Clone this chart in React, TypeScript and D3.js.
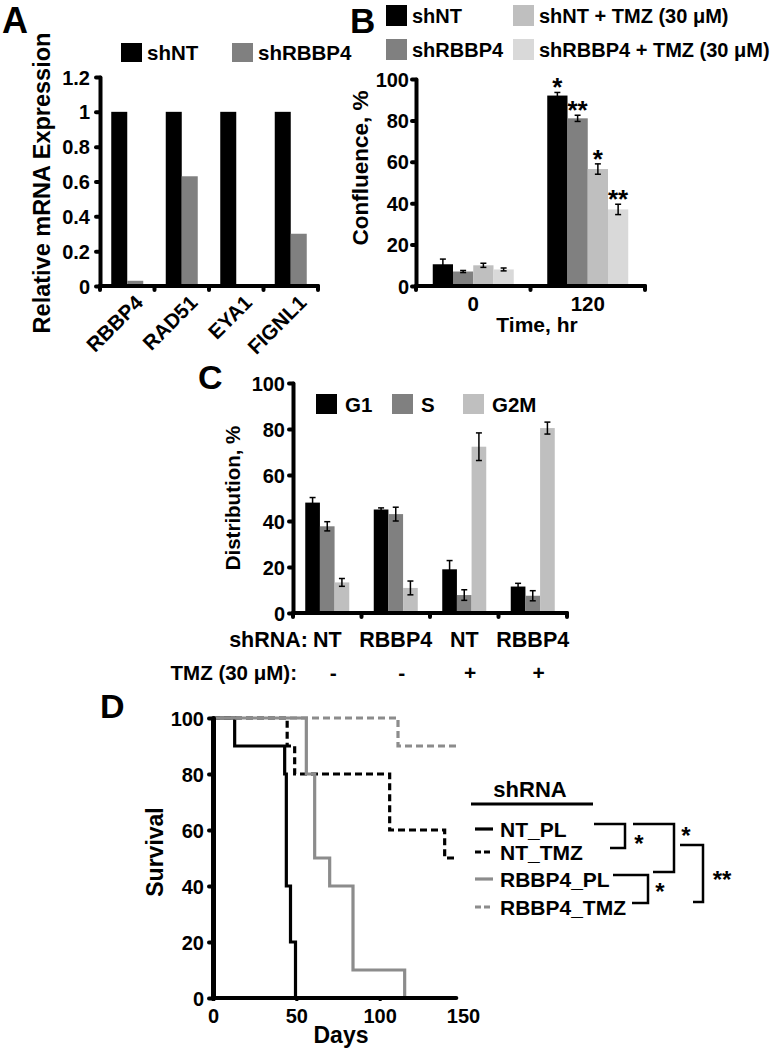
import React, { useEffect, useRef } from 'react';
import * as d3 from 'd3';

const FONT = '"Liberation Sans", Arial, Helvetica, sans-serif';

// Panel A
const genesA = ['RBBP4', 'RAD51', 'EYA1', 'FIGNL1'];
const seriesA = ['shNT', 'shRBBP4'];
const shNTA = [1, 1, 1, 1];
const shRBBP4A = [0.03, 0.63, 0, 0.3];
const colorsA = ['#000000', '#808080'];

// Panel B
const timesB = ['0', '120'];
const seriesB = ['shNT', 'shRBBP4', 'shNT + TMZ (30 μM)', 'shRBBP4 + TMZ (30 μM)'];
const colorsB = ['#000000', '#808080', '#bfbfbf', '#d9d9d9'];
const confMean = [[10.5, 92], [7, 81], [10, 56.5], [8, 37]];
const confErr = [[2.5, 1.5], [0.5, 1.5], [1, 2.5], [0.7, 2.5]];
const confStars = [['', '*'], ['', '**'], ['', '*'], ['', '**']];

// Panel C
const groupsC = ['NT-', 'RBBP4-', 'NT+', 'RBBP4+'];
const shrnaC = ['NT', 'RBBP4', 'NT', 'RBBP4'];
const tmzC = ['-', '-', '+', '+'];
const phasesC = ['G1', 'S', 'G2M'];
const colorsC = ['#000000', '#808080', '#bfbfbf'];
const distMean = [[48, 45, 19, 11.5], [37.7, 43, 7.8, 7.5], [13.3, 10.9, 72.3, 80.4]];
const distErr = [[2.2, 0.7, 3.8, 1.4], [2, 3, 2.3, 2.2], [1.7, 3, 6, 2.6]];

// Panel D
const survNames = ['NT_PL', 'NT_TMZ', 'RBBP4_PL', 'RBBP4_TMZ'];
const survColors = ['#000000', '#000000', '#8c8c8c', '#8c8c8c'];
const survDashed = [false, true, false, true];
const survNTPL = [[0, 100], [13, 90], [43, 80], [44, 40], [46.5, 20], [49.5, 0], [145, 0]];
const survNTTMZ = [[0, 100], [44.5, 90], [49, 80], [106, 60], [139, 50], [145, 50]];
const survRBPL = [[0, 100], [56, 80], [61, 50], [70, 40], [84, 10], [115, 0]];
const survRBTMZ = [[0, 100], [111, 90], [146, 90]];
const survData = [survNTPL, survNTTMZ, survRBPL, survRBTMZ];

function boldText(sel, x, y, txt, size, anchor = 'start') {
  return sel.append('text')
    .attr('x', x).attr('y', y)
    .attr('font-family', FONT).attr('font-weight', 'bold')
    .attr('font-size', size).attr('text-anchor', anchor)
    .attr('fill', '#000')
    .text(txt);
}

function leftAxis(svg, y, x, ticks, fmt, size = 20, pad = 6) {
  const ax = svg.append('g')
    .attr('transform', `translate(${x},0)`)
    .call(d3.axisLeft(y).tickValues(ticks).tickSize(4).tickSizeOuter(0).tickPadding(pad).tickFormat(fmt));
  ax.select('.domain').attr('stroke', '#000').attr('stroke-width', 4).attr('stroke-linecap', 'round');
  ax.selectAll('.tick line').attr('stroke', '#000').attr('stroke-width', 4).attr('stroke-linecap', 'round');
  ax.selectAll('.tick text')
    .attr('font-family', FONT).attr('font-weight', 'bold').attr('font-size', size).attr('fill', '#000')
    .attr('dy', '0.35em');
  return ax;
}

// x baseline with ticks at category boundaries (Excel style)
function bandBaseline(svg, x, y0) {
  const [r0, r1] = x.range();
  svg.append('line').attr('x1', r0).attr('x2', r1).attr('y1', y0).attr('y2', y0)
    .attr('stroke', '#000').attr('stroke-width', 4).attr('stroke-linecap', 'round');
  const edges = x.domain().map(d => x(d)).concat([r1]);
  svg.selectAll(null).data(edges).enter().append('line')
    .attr('x1', d => d).attr('x2', d => d).attr('y1', y0).attr('y2', y0 + 4)
    .attr('stroke', '#000').attr('stroke-width', 4).attr('stroke-linecap', 'round');
}

function errBar(svg, cx, yTop, yBot, cap = 3) {
  svg.append('line').attr('x1', cx).attr('x2', cx).attr('y1', yTop).attr('y2', yBot).attr('stroke', '#000').attr('stroke-width', 1.5);
  svg.append('line').attr('x1', cx - cap).attr('x2', cx + cap).attr('y1', yTop).attr('y2', yTop).attr('stroke', '#000').attr('stroke-width', 1.5);
  svg.append('line').attr('x1', cx - cap).attr('x2', cx + cap).attr('y1', yBot).attr('y2', yBot).attr('stroke', '#000').attr('stroke-width', 1.5);
}

export default function App() {
  const ref = useRef<SVGSVGElement>(null);

  useEffect(() => {
    const svg = d3.select(ref.current);
    svg.selectAll('*').remove();

    // ---------- Panel A ----------
    boldText(svg, 2, 33, 'A', 36);
    const xA = d3.scaleBand().domain(genesA).range([100, 318]);
    const yA = d3.scaleLinear().domain([0, 1.2]).range([286, 77]);
    const subA = d3.scaleBand().domain(seriesA).range([0, 32]);
    [shNTA, shRBBP4A].forEach((vals, si) => {
      svg.selectAll(null).data(vals).enter().append('rect')
        .attr('x', (d, i) => xA(genesA[i]) + xA.bandwidth() / 2 - 16 + subA(seriesA[si]))
        .attr('y', d => yA(d))
        .attr('width', subA.bandwidth())
        .attr('height', d => yA(0) - yA(d))
        .attr('fill', colorsA[si]);
    });
    leftAxis(svg, yA, 100, [0, 0.2, 0.4, 0.6, 0.8, 1, 1.2], d3.format('~g'), 20, 6);
    bandBaseline(svg, xA, 286);
    genesA.forEach(g => {
      boldText(svg, 0, 0, g, 20.5, 'end')
        .attr('transform', `translate(${xA(g) + xA.bandwidth() / 2 + 17},${304}) rotate(-45)`);
    });
    boldText(svg, 0, 0, 'Relative mRNA Expression', 23.5, 'middle')
      .attr('transform', 'translate(50,183) rotate(-90)');
    // legend A
    seriesA.forEach((s, i) => {
      const lx = [121, 232][i];
      svg.append('rect').attr('x', lx).attr('y', 43).attr('width', 21).attr('height', 19).attr('fill', colorsA[i]);
      boldText(svg, lx + 26, 60, s, 20.5);
    });

    // ---------- Panel B ----------
    boldText(svg, 350, 33, 'B', 35);
    const xB = d3.scaleBand().domain(timesB).range([416, 645]);
    const yB = d3.scaleLinear().domain([0, 100]).range([286, 79]);
    const subB = d3.scaleBand().domain(seriesB).range([0, 81]);
    seriesB.forEach((s, si) => {
      timesB.forEach((t, ti) => {
        const v = confMean[si][ti];
        const e = confErr[si][ti];
        const bx = xB(t) + xB.bandwidth() / 2 - 40.5 + subB(s);
        svg.append('rect').attr('x', bx).attr('y', yB(v)).attr('width', subB.bandwidth())
          .attr('height', yB(0) - yB(v)).attr('fill', colorsB[si]);
        errBar(svg, bx + subB.bandwidth() / 2, yB(v + e), yB(v - e), 3);
        if (confStars[si][ti]) {
          boldText(svg, bx + subB.bandwidth() / 2, yB(v + e) + 4, confStars[si][ti], 26, 'middle');
        }
      });
    });
    leftAxis(svg, yB, 416, [0, 20, 40, 60, 80, 100], d3.format('d'), 20, 3);
    bandBaseline(svg, xB, 286);
    timesB.forEach(t => boldText(svg, xB(t) + xB.bandwidth() / 2, 311, t, 20.5, 'middle'));
    boldText(svg, 537, 332, 'Time, hr', 21, 'middle');
    boldText(svg, 0, 0, 'Confluence, %', 22.5, 'middle')
      .attr('transform', 'translate(368,168) rotate(-90)');
    seriesB.forEach((s, i) => {
      const lx = [386, 386, 513, 513][i];
      const ly = [5, 39, 5, 39][i];
      svg.append('rect').attr('x', lx).attr('y', ly).attr('width', 21).attr('height', 21).attr('fill', colorsB[i]);
      boldText(svg, lx + 26, ly + 18, s, 20);
    });

    // ---------- Panel C ----------
    boldText(svg, 198, 389, 'C', 34);
    const xC = d3.scaleBand().domain(groupsC).range([293, 567]);
    const yC = d3.scaleLinear().domain([0, 100]).range([613, 383]);
    const subC = d3.scaleBand().domain(phasesC).range([0, 44]);
    phasesC.forEach((p, pi) => {
      groupsC.forEach((g, gi) => {
        const v = distMean[pi][gi];
        const e = distErr[pi][gi];
        const bx = xC(g) + xC.bandwidth() / 2 - 22 + subC(p);
        svg.append('rect').attr('x', bx).attr('y', yC(v)).attr('width', subC.bandwidth())
          .attr('height', yC(0) - yC(v)).attr('fill', colorsC[pi]);
        errBar(svg, bx + subC.bandwidth() / 2, yC(v + e), yC(v - e), 3);
      });
    });
    leftAxis(svg, yC, 293, [0, 20, 40, 60, 80, 100], d3.format('d'), 20, 4);
    bandBaseline(svg, xC, 613);
    boldText(svg, 0, 0, 'Distribution, %', 20.5, 'middle')
      .attr('transform', 'translate(240,498) rotate(-90)');
    phasesC.forEach((p, i) => {
      const lx = [316, 392, 463][i];
      svg.append('rect').attr('x', lx).attr('y', 394).attr('width', 21).attr('height', 20).attr('fill', colorsC[i]);
      boldText(svg, lx + 29, 412, p, 20.5);
    });
    boldText(svg, 308, 647, 'shRNA:', 21.5, 'end');
    groupsC.forEach((g, i) => {
      boldText(svg, xC(g) + xC.bandwidth() / 2, 647, shrnaC[i], 21.5, 'middle');
      boldText(svg, xC(g) + xC.bandwidth() / 2 + 6, 680, tmzC[i], 21, 'middle');
    });
    boldText(svg, 297, 680, 'TMZ (30 μM):', 20.5, 'end');

    // ---------- Panel D ----------
    boldText(svg, 100, 718, 'D', 34);
    const xD = d3.scaleLinear().domain([0, 150]).range([213, 463]);
    const yD = d3.scaleLinear().domain([0, 100]).range([998, 718]);
    const line = d3.line().x(d => xD(d[0])).y(d => yD(d[1])).curve(d3.curveStepAfter);
    survData.forEach((pts, i) => {
      svg.append('path').attr('d', line(pts)).attr('fill', 'none')
        .attr('stroke', survColors[i]).attr('stroke-width', 3.2)
        .attr('stroke-dasharray', survDashed[i] ? '7,4' : null);
    });
    const axY = leftAxis(svg, yD, 213, [0, 20, 40, 60, 80, 100], d3.format('d'), 20, 5);
    axY.select('.domain').attr('stroke-width', 5);
    const axX = svg.append('g').attr('transform', 'translate(0,998)')
      .call(d3.axisBottom(xD).tickValues([0, 50, 100, 150]).tickSize(3).tickSizeOuter(0).tickPadding(8));
    axX.select('.domain').attr('stroke', '#000').attr('stroke-width', 4).attr('stroke-linecap', 'round')
      .attr('d', `M${xD(0)},0H${xD(146)}`);
    axX.selectAll('.tick line').attr('stroke', '#000').attr('stroke-width', 3)
      .attr('opacity', d => (d > 146 ? 0 : 1));
    axX.selectAll('.tick text').attr('font-family', FONT).attr('font-weight', 'bold').attr('font-size', 20).attr('fill', '#000');
    boldText(svg, 341, 1043, 'Days', 23, 'middle');
    boldText(svg, 0, 0, 'Survival', 23, 'middle')
      .attr('transform', 'translate(163,852) rotate(-90)');

    // legend D
    boldText(svg, 530, 797, 'shRNA', 22, 'middle');
    svg.append('line').attr('x1', 471).attr('x2', 593).attr('y1', 804).attr('y2', 804).attr('stroke', '#000').attr('stroke-width', 3);
    const rowY = [829, 852, 879, 907];
    survNames.forEach((n, i) => {
      svg.append('line').attr('x1', 475).attr('x2', 493).attr('y1', rowY[i]).attr('y2', rowY[i])
        .attr('stroke', survColors[i]).attr('stroke-width', 3.2)
        .attr('stroke-dasharray', survDashed[i] ? '6,3' : null);
      boldText(svg, 500, rowY[i] + 8, n, 21);
    });
    const bracket = (x0, x1, xr, yTop, yBot) => {
      svg.append('path').attr('d', `M${x0},${yTop}H${xr}V${yBot}H${x1}`)
        .attr('fill', 'none').attr('stroke', '#000').attr('stroke-width', 2.5);
    };
    bracket(594, 610, 625, 824, 848);
    boldText(svg, 639, 852, '*', 24, 'middle');
    bracket(633, 653, 674, 824, 872);
    boldText(svg, 686, 844, '*', 24, 'middle');
    bracket(613, 632, 648, 875, 903);
    boldText(svg, 660, 900, '*', 24, 'middle');
    bracket(680, 693, 703, 845, 902);
    boldText(svg, 722, 888, '**', 24, 'middle');
  }, []);

  return (
    <svg ref={ref} width={782} height={1050}
      style={{ position: 'absolute', left: 0, top: 0, background: '#fff' }} />
  );
}
